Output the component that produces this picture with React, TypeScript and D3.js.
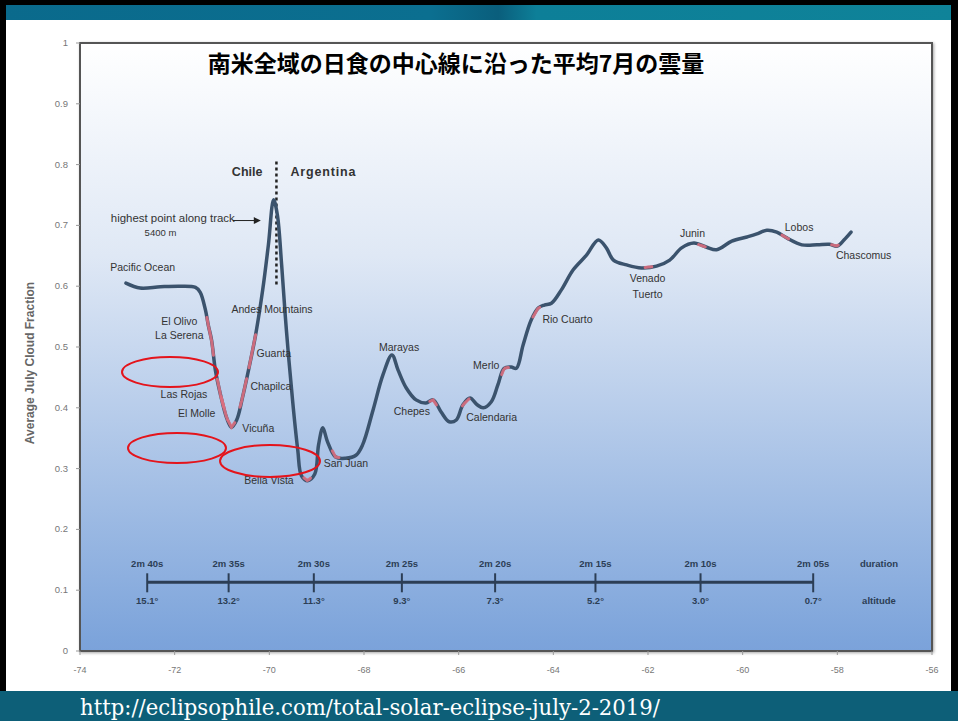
import React from 'react';
import * as d3 from 'd3';

// longitude / average July cloud fraction along the centre line
const lons = [
  -73.03, -72.73, -72.3, -71.88, -71.56, -71.46, -71.35, -71.29, -71.22, -71.14, -71.03, -70.9, -70.8,
  -70.69, -70.57, -70.44, -70.29, -70.14, -70.02, -69.91, -69.83, -69.74, -69.64, -69.51, -69.4, -69.32,
  -69.19, -69.04, -68.96, -68.87, -68.77, -68.6, -68.39, -68.17, -68.03, -67.81, -67.6, -67.41, -67.28,
  -67.11, -66.9, -66.69, -66.54, -66.37, -66.2, -66.05, -65.91, -65.76, -65.61, -65.48, -65.31, -65.17,
  -65.04, -64.89, -64.78, -64.64, -64.47, -64.32, -64.19, -64.04, -63.83, -63.58, -63.3, -63.05, -62.88,
  -62.73, -62.45, -62.14, -61.82, -61.54, -61.29, -61.03, -60.76, -60.55, -60.23, -59.91, -59.7, -59.49,
  -59.28, -59.06, -58.75, -58.43, -58.17, -58.0, -57.86, -57.71,
];
const cloud = [
  0.605, 0.597, 0.599, 0.6, 0.598, 0.59, 0.561, 0.536, 0.511, 0.462, 0.421, 0.383, 0.368,
  0.38, 0.416, 0.462, 0.52, 0.594, 0.668, 0.742, 0.717, 0.635, 0.528, 0.413, 0.331, 0.288,
  0.28, 0.291, 0.339, 0.367, 0.344, 0.319, 0.317, 0.322, 0.339, 0.396, 0.454, 0.487, 0.462,
  0.433, 0.413, 0.408, 0.413, 0.393, 0.377, 0.38, 0.405, 0.416, 0.405, 0.4, 0.41, 0.438,
  0.465, 0.467, 0.465, 0.503, 0.544, 0.564, 0.569, 0.572, 0.594, 0.627, 0.651, 0.676, 0.663,
  0.643, 0.635, 0.63, 0.633, 0.643, 0.663, 0.671, 0.664, 0.66, 0.674, 0.681, 0.686, 0.692,
  0.689, 0.679, 0.668, 0.668, 0.669, 0.666, 0.676, 0.689,
];

const yTicks = [0, 0.1, 0.2, 0.3, 0.4, 0.5, 0.6, 0.7, 0.8, 0.9, 1];
const xTicks = [-74, -72, -70, -68, -66, -64, -62, -60, -58, -56];

// town markers (red segments on the line)
const markerLons = [-71.25, -71.03, -70.95, -70.8, -70.55, -70.36, -69.2, -68.6, -66.54, -65.85, -65.02, -64.36, -61.99, -60.86, -59.1, -58.05];

// place labels: text, lon, value (baseline), anchor
const placeNames = ['Pacific Ocean', 'El Olivo', 'La Serena', 'Andes Mountains', 'Guanta', 'Chapilca', 'Las Rojas', 'El Molle', 'Vicuña', 'Bella Vista', 'San Juan', 'Marayas', 'Chepes', 'Calendaria', 'Merlo', 'Rio Cuarto', 'Venado', 'Tuerto', 'Junin', 'Lobos', 'Chascomus'];
const placeLons = [-73.36, -71.52, -71.39, -70.8, -70.27, -70.4, -71.31, -71.14, -70.57, -70.53, -68.85, -67.26, -66.99, -65.84, -65.14, -64.23, -62.01, -62.01, -61.06, -59.11, -58.03];
const placeVals = [0.625, 0.536, 0.513, 0.556, 0.484, 0.429, 0.416, 0.385, 0.36, 0.275, 0.303, 0.493, 0.388, 0.378, 0.464, 0.539, 0.607, 0.581, 0.681, 0.691, 0.645];
const placeAnchor = ['start', 'end', 'end', 'start', 'start', 'start', 'end', 'end', 'start', 'start', 'start', 'middle', 'middle', 'start', 'end', 'start', 'middle', 'middle', 'middle', 'start', 'start'];

// duration / sun altitude scale
const scaleLons = [-72.58, -70.86, -69.06, -67.2, -65.23, -63.11, -60.89, -58.51];
const durations = ['2m 40s', '2m 35s', '2m 30s', '2m 25s', '2m 20s', '2m 15s', '2m 10s', '2m 05s'];
const altitudes = ['15.1°', '13.2°', '11.3°', '9.3°', '7.3°', '5.2°', '3.0°', '0.7°'];

const W = 958;
const H = 721;
const plot = { left: 80, right: 932, top: 43, bottom: 651 };

export default function App() {
  const x = d3.scaleLinear().domain([-74, -56]).range([plot.left, plot.right]);
  const y = d3.scaleLinear().domain([0, 1]).range([plot.bottom, plot.top]);

  const data = lons.map((l, i) => ({ lon: l, v: cloud[i] }));
  const line = d3
    .line<{ lon: number; v: number }>()
    .x(d => x(d.lon))
    .y(d => y(d.v))
    .curve(d3.curveCatmullRom.alpha(0.5));

  const valAt = (lon: number) => {
    const i = d3.bisector((d: { lon: number }) => d.lon).right(data, lon);
    const a = data[Math.max(0, i - 1)];
    const b = data[Math.min(data.length - 1, i)];
    if (a === b) return a.v;
    return a.v + ((b.v - a.v) * (lon - a.lon)) / (b.lon - a.lon);
  };
  const markerPath = (lon: number) => {
    const pts = d3.range(-0.07, 0.0701, 0.035).map(dl => ({ lon: lon + dl, v: valAt(lon + dl) }));
    return d3.line<{ lon: number; v: number }>().x(d => x(d.lon)).y(d => y(d.v))(pts) ?? '';
  };

  const borderLon = -69.85;
  const scaleY = y(0.113);

  return (
    <svg width={W} height={H} style={{ position: 'absolute', left: 0, top: 0, background: '#fff' }}
      fontFamily="'Liberation Sans', Arial, sans-serif">
      <defs>
        <linearGradient id="bg" x1="0" y1="0" x2="0" y2="1">
          <stop offset="0%" stopColor="#ffffff" />
          <stop offset="35%" stopColor="#dfe8f5" />
          <stop offset="100%" stopColor="#7aa2da" />
        </linearGradient>
        <linearGradient id="band" x1="0" y1="0" x2="1" y2="0">
          <stop offset="0%" stopColor="#0a6a8c" />
          <stop offset="45%" stopColor="#0b6f90" />
          <stop offset="52%" stopColor="#0a5e7c" />
          <stop offset="56%" stopColor="#0d7f98" />
          <stop offset="100%" stopColor="#0f8399" />
        </linearGradient>
        <filter id="shadow" x="-5%" y="-5%" width="110%" height="110%">
          <feDropShadow dx="1" dy="1" stdDeviation="1.5" floodColor="#000" floodOpacity="0.35" />
        </filter>
      </defs>

      {/* slide frame */}
      <rect x={0} y={0} width={W} height={5} fill="#000" />
      <rect x={0} y={5} width={W} height={15} fill="url(#band)" />
      <rect x={0} y={0} width={6} height={H} fill="#000" />
      <rect x={951} y={0} width={7} height={H} fill="#000" />

      {/* plot area */}
      <rect x={plot.left} y={plot.top} width={plot.right - plot.left} height={plot.bottom - plot.top}
        fill="url(#bg)" stroke="#555" strokeWidth={2} filter="url(#shadow)" />

      {/* y axis */}
      {yTicks.map(t => (
        <g key={t}>
          <line x1={plot.left - 4} x2={plot.left} y1={y(t)} y2={y(t)} stroke="#999" />
          <text x={plot.left - 12} y={y(t) + 3} fontSize={9.5} fill="#777" textAnchor="end">{t === 0 || t === 1 ? String(t) : t.toFixed(1)}</text>
        </g>
      ))}
      <text transform={`translate(34,363) rotate(-90)`} fontSize={12} fontWeight="bold" fill="#666" textAnchor="middle">
        Average July Cloud Fraction
      </text>

      {/* x axis */}
      {xTicks.map(t => (
        <g key={t}>
          <line x1={x(t)} x2={x(t)} y1={plot.bottom} y2={plot.bottom + 4} stroke="#999" />
          <text x={x(t)} y={plot.bottom + 22} fontSize={9} fill="#777" textAnchor="middle">{t}</text>
        </g>
      ))}

      {/* title */}
      <text x={456} y={72} fontSize={23} fontWeight="bold" fill="#000" textAnchor="middle"
        fontFamily="'Noto Sans CJK JP', sans-serif">南米全域の日食の中心線に沿った平均7月の雲量</text>

      {/* Chile / Argentina border */}
      <line x1={x(borderLon)} x2={x(borderLon)} y1={y(0.805)} y2={y(0.6)} stroke="#222" strokeWidth={2.5} strokeDasharray="3,3" />
      <text x={x(borderLon) - 14} y={y(0.781)} fontSize={12.5} fontWeight="bold" fill="#333" textAnchor="end">Chile</text>
      <text x={x(borderLon) + 14} y={y(0.781)} fontSize={12.5} fontWeight="bold" fill="#333" textAnchor="start" textLength={65}>Argentina</text>

      {/* highest point annotation */}
      <text x={x(-73.35)} y={y(0.706)} fontSize={10} fill="#333" textAnchor="start" textLength={124} lengthAdjust="spacingAndGlyphs">highest point along track</text>
      <text x={x(-72.3)} y={y(0.683)} fontSize={9.5} fill="#333" textAnchor="middle">5400 m</text>
      <line x1={x(-70.77)} x2={x(-70.3)} y1={y(0.708)} y2={y(0.708)} stroke="#222" strokeWidth={1} />
      <path d={`M${x(-70.18)},${y(0.708)} l-7,-3.5 l0,7 z`} fill="#222" />

      {/* curve */}
      <path d={line(data) ?? ''} fill="none" stroke="#3b536d" strokeWidth={3.5} strokeLinejoin="round" strokeLinecap="round" />
      {markerLons.map(m => (
        <path key={m} d={markerPath(m)} fill="none" stroke="#dc6f80" strokeWidth={3} strokeLinecap="round" opacity={0.9} />
      ))}

      {/* place labels */}
      {placeNames.map((n, i) => (
        <text key={n} x={x(placeLons[i])} y={y(placeVals[i])} fontSize={10.5} fill="#333"
          textAnchor={placeAnchor[i] as 'start' | 'end' | 'middle'}>{n}</text>
      ))}

      {/* red ellipses */}
      <ellipse cx={170} cy={372} rx={48} ry={15} fill="none" stroke="#e4141b" strokeWidth={2} />
      <ellipse cx={177} cy={448} rx={49} ry={15} fill="none" stroke="#e4141b" strokeWidth={2} />
      <ellipse cx={270} cy={461} rx={50} ry={16} fill="none" stroke="#e4141b" strokeWidth={2} />

      {/* duration / altitude scale */}
      <line x1={x(scaleLons[0])} x2={x(scaleLons[scaleLons.length - 1])} y1={scaleY} y2={scaleY} stroke="#2c3e55" strokeWidth={3} />
      {scaleLons.map((l, i) => (
        <g key={l}>
          <line x1={x(l)} x2={x(l)} y1={scaleY - 9} y2={scaleY + 10} stroke="#2c3e55" strokeWidth={2} />
          <text x={x(l)} y={scaleY - 15} fontSize={9.5} fontWeight="bold" fill="#2c3e55" textAnchor="middle">{durations[i]}</text>
          <text x={x(l)} y={scaleY + 22} fontSize={9.5} fontWeight="bold" fill="#2c3e55" textAnchor="middle">{altitudes[i]}</text>
        </g>
      ))}
      <text x={879} y={scaleY - 15} fontSize={9.5} fontWeight="bold" fill="#2c3e55" textAnchor="middle">duration</text>
      <text x={879} y={scaleY + 22} fontSize={9.5} fontWeight="bold" fill="#2c3e55" textAnchor="middle">altitude</text>

      {/* footer */}
      <rect x={0} y={691} width={W} height={H - 691} fill="#0d5f78" />
      <text x={80} y={715} fontSize={22} fill="#fff" fontFamily="'DejaVu Serif', 'Liberation Serif', serif"
        textLength={580} lengthAdjust="spacingAndGlyphs">
        http://eclipsophile.com/total-solar-eclipse-july-2-2019/
      </text>
    </svg>
  );
}
